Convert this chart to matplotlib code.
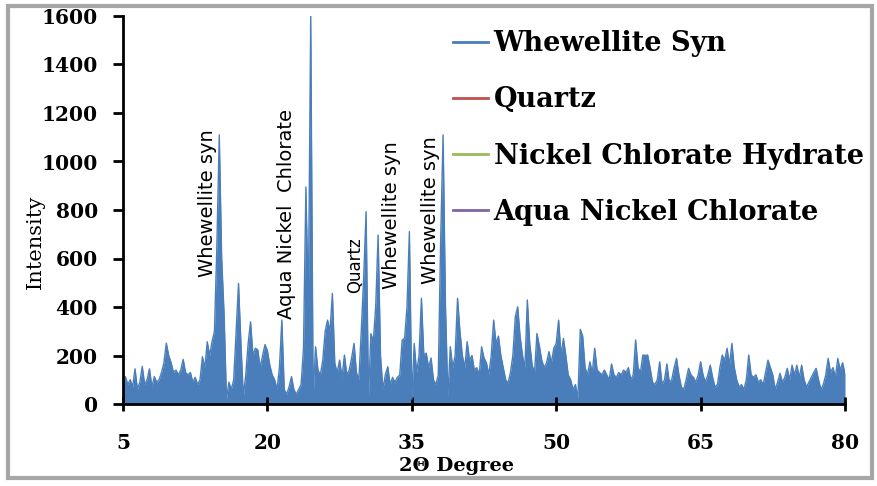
#!/usr/bin/env python3

# plot.py - XRD pattern with phase annotations

import numpy as np
import matplotlib
matplotlib.use("Agg")
import matplotlib.pyplot as plt
from matplotlib.lines import Line2D
from matplotlib.patches import Rectangle

# scan grid, 2theta from 5 to 80 deg in 0.25 deg steps
two_theta = np.arange(5, 80.001, 0.25)

# intensity, one row per 5 degrees
intensity = [
    60, 113, 80, 100, 70, 145, 60, 90, 155, 80, 100, 145, 70, 113, 90, 100, 130, 170, 251, 200,
    170, 130, 140, 120, 140, 184, 130, 120, 130, 90, 110, 80, 100, 195, 150, 257, 200, 257, 300, 650,
    1110, 600, 370, 20, 90, 60, 100, 300, 497, 250, 30, 120, 250, 339, 200, 230, 223, 150, 200, 245,
    220, 160, 120, 100, 60, 150, 346, 60, 40, 70, 113, 60, 40, 60, 80, 230, 895, 400, 1600, 30,
    236, 140, 120, 180, 300, 346, 300, 456, 168, 130, 181, 110, 202, 120, 140, 190, 250, 130, 100, 300,
    520, 793, 30, 290, 260, 400, 697, 200, 60, 120, 154, 80, 110, 90, 110, 120, 264, 270, 400, 711,
    20, 250, 130, 200, 436, 200, 210, 150, 190, 100, 80, 120, 680, 1110, 400, 30, 236, 150, 200, 436,
    300, 200, 150, 257, 180, 200, 140, 150, 120, 236, 190, 170, 120, 200, 346, 250, 280, 200, 150, 100,
    85, 130, 200, 360, 401, 278, 200, 150, 429, 250, 160, 130, 291, 240, 180, 150, 170, 216, 170, 230,
    250, 346, 200, 270, 200, 120, 100, 60, 80, 20, 308, 280, 150, 120, 174, 130, 230, 140, 130, 120,
    140, 120, 100, 165, 120, 110, 130, 120, 140, 130, 150, 100, 120, 264, 150, 130, 202, 200, 202, 150,
    90, 80, 100, 174, 80, 100, 165, 90, 100, 150, 188, 120, 70, 60, 100, 147, 120, 110, 90, 120,
    174, 120, 90, 120, 160, 110, 70, 80, 150, 202, 180, 230, 160, 250, 150, 100, 70, 80, 60, 100,
    202, 120, 110, 120, 90, 100, 80, 130, 181, 150, 120, 60, 90, 126, 90, 110, 147, 100, 160, 120,
    160, 110, 160, 100, 70, 90, 110, 130, 147, 100, 60, 80, 120, 188, 130, 150, 110, 188, 140, 170,
    126,
]

series_names = ["Whewellite Syn", "Quartz", "Nickel Chlorate Hydrate", "Aqua Nickel Chlorate"]
series_colors = ["#4A7EBB", "#C0504D", "#9BBB59", "#8064A2"]

# peak labels: text, 2theta, intensity at text centre, font size
peak_labels = ["Whewellite syn", "Aqua Nickel  Chlorate", "Quartz", "Whewellite syn", "Whewellite syn"]
peak_x = [13.8, 22.0, 29.1, 32.9, 36.9]
peak_y = [827, 784, 573, 778, 800]
peak_size = [14, 14, 12, 14, 14]

fig = plt.figure(figsize=(8.78, 4.86), dpi=100)
ax = fig.add_axes([123 / 878, 82 / 486, 722 / 878, 388 / 486])

blue = series_colors[0]
ax.fill_between(two_theta, intensity, color=blue, lw=0)
ax.plot(two_theta, intensity, color=blue, lw=1.0)

for txt, px, py, fs in zip(peak_labels, peak_x, peak_y, peak_size):
    ax.text(px, py, txt, rotation=90, ha="center", va="center",
            fontsize=fs, family="DejaVu Sans", color="black")

ax.set_xlim(5, 80)
ax.set_ylim(0, 1600)
ax.set_xticks([5, 20, 35, 50, 65, 80])
ax.set_yticks(range(0, 1601, 200))
for s in ["top", "right"]:
    ax.spines[s].set_visible(False)
for s in ["left", "bottom"]:
    ax.spines[s].set_linewidth(2)
ax.tick_params(axis="y", direction="out", length=7, width=2, pad=11)
ax.tick_params(axis="x", direction="inout", length=10, width=2, pad=16)
for lab in ax.get_xticklabels() + ax.get_yticklabels():
    lab.set_fontfamily("DejaVu Serif")
    lab.set_fontweight("bold")
    lab.set_fontsize(14.5)

ax.set_ylabel("Intensity", family="DejaVu Serif", fontsize=15)
ax.yaxis.set_label_coords(-0.108, 0.418)
ax.set_xlabel("2\u0398 Degree", family="DejaVu Serif", fontweight="bold", fontsize=14)
ax.xaxis.set_label_coords((457 - 123) / 722, -0.137)

handles = [Line2D([], [], color=c, lw=2) for c in series_colors]
fig.legend(handles, series_names, loc="upper left",
           bbox_to_anchor=(453 / 878, 1 - 30 / 486),
           frameon=False, borderpad=0, borderaxespad=0,
           handlelength=1.3, handletextpad=0.2, labelspacing=1.08,
           prop={"family": "DejaVu Serif", "weight": "bold", "size": 19.5})

# grey picture frame
fig.patches.append(Rectangle((8 / 878, 8 / 486), 864 / 878, 472 / 486,
                             transform=fig.transFigure, fill=False,
                             edgecolor="#a6a6a6", lw=3))

fig.savefig("out.png", dpi=100)
